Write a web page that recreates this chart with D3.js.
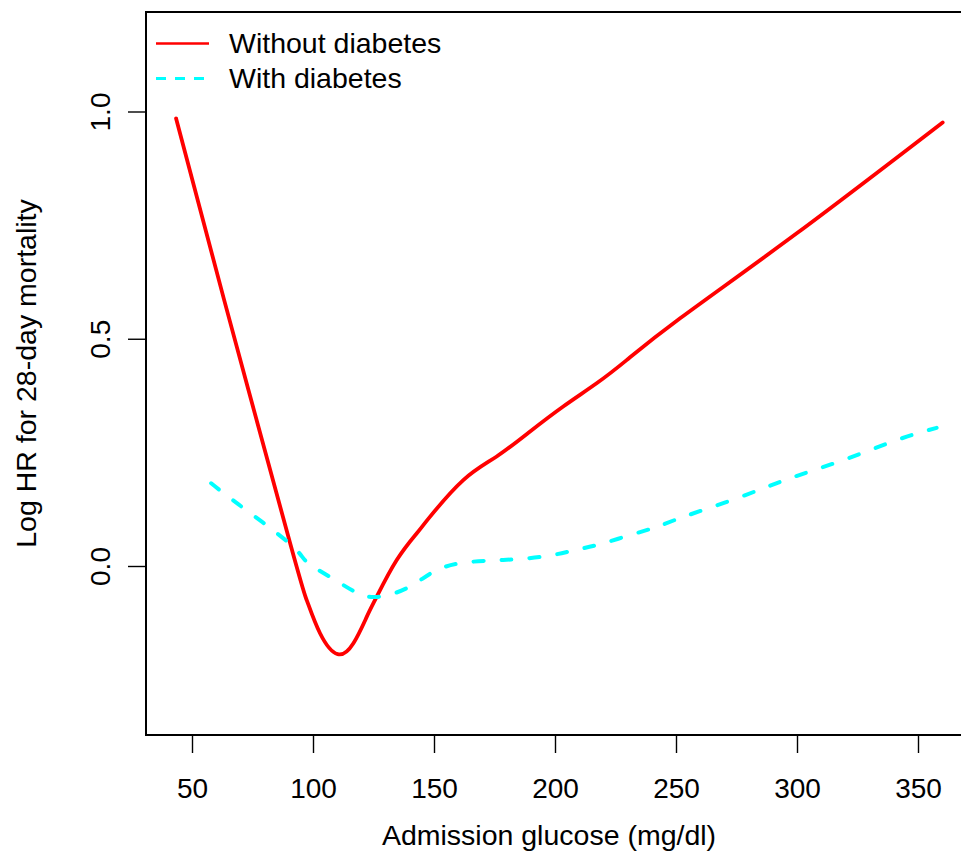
<!DOCTYPE html>
<html>
<head>
<meta charset="utf-8">
<script src="https://cdn.jsdelivr.net/npm/d3@7"></script>
<style>
  body { margin: 0; background: #fff; overflow: hidden; }
  svg { display: block; font-family: "Liberation Sans", Arial, sans-serif; }
  .axis text { font-size: 28px; fill: #000; }
  .axis line { stroke: #000; stroke-width: 1.4; }
</style>
</head>
<body>
<div id="chart"></div>
<script>
// glucose (mg/dl) and log HR
var withoutX = [43.4, 63.3, 90.5, 97.4, 102.9, 110.2, 116.7, 122.2, 126.3, 134.6, 142.9, 148.3, 162.1, 175.9, 189.7, 203.4, 217.2, 229.6, 251.7, 299.9, 360.2];
var withoutY = [0.985, 0.585, 0.051, -0.075, -0.148, -0.194, -0.170, -0.112, -0.068, 0.013, 0.072, 0.108, 0.189, 0.241, 0.296, 0.351, 0.402, 0.453, 0.545, 0.732, 0.976];

var withX = [57.9, 69.1, 90.2, 97.4, 107.0, 117.4, 126.3, 138.7, 149.7, 160.7, 173.1, 184.2, 196.6, 207.6, 218.6, 231.0, 242.0, 253.0, 275.1, 297.1, 319.1, 341.2, 357.7];
var withY = [0.182, 0.136, 0.050, 0.009, -0.024, -0.057, -0.068, -0.049, -0.013, 0.006, 0.012, 0.015, 0.022, 0.034, 0.048, 0.068, 0.086, 0.108, 0.149, 0.193, 0.233, 0.277, 0.304];

var xTicks = [50, 100, 150, 200, 250, 300, 350];
var yTicks = [0, 0.5, 1.0];
var seriesNames = ['Without diabetes', 'With diabetes'];

var W = 961, H = 852;
// the frame runs off the right side of the picture
var box = { left: 146, top: 12, right: 1000, bottom: 735 };

var svg = d3.select('#chart').append('svg')
  .attr('width', W)
  .attr('height', H);

var x = d3.scaleLinear().domain([50, 350]).range([192, 918]);
var y = d3.scaleLinear().domain([0, 1]).range([566, 111.5]);

// x axis
var xAxis = d3.axisBottom(x).tickValues(xTicks).tickSize(18).tickSizeOuter(0)
  .tickFormat(d3.format('d'));
svg.append('g')
  .attr('class', 'axis')
  .attr('transform', 'translate(0,' + box.bottom + ')')
  .call(xAxis)
  .call(function(g) {
    g.select('.domain').remove();
    g.selectAll('.tick text').attr('dy', null).attr('y', 63);
  });

// y axis, labels turned like R does
var yAxis = d3.axisLeft(y).tickValues(yTicks).tickSize(18).tickSizeOuter(0)
  .tickFormat(d3.format('.1f'));
svg.append('g')
  .attr('class', 'axis')
  .attr('transform', 'translate(' + box.left + ',0)')
  .call(yAxis)
  .call(function(g) {
    g.select('.domain').remove();
    g.selectAll('.tick text')
      .attr('x', null).attr('dy', null)
      .attr('text-anchor', 'middle')
      .attr('transform', 'translate(-36,0) rotate(-90)');
  });

// axis titles
svg.append('text')
  .attr('x', 549)
  .attr('y', 845)
  .attr('text-anchor', 'middle')
  .style('font-size', '28.5px')
  .text('Admission glucose (mg/dl)');

svg.append('text')
  .attr('transform', 'translate(36,' + ((box.top + box.bottom) / 2) + ') rotate(-90)')
  .attr('text-anchor', 'middle')
  .style('font-size', '28.5px')
  .text('Log HR for 28-day mortality');

// lines
var line = d3.line()
  .x(function(d) { return x(d[0]); })
  .y(function(d) { return y(d[1]); })
  .curve(d3.curveNatural);

svg.append('path')
  .datum(d3.zip(withoutX, withoutY))
  .attr('d', line)
  .attr('fill', 'none')
  .attr('stroke', '#ff0000')
  .attr('stroke-width', 3.8)
  .attr('stroke-linecap', 'round');

svg.append('path')
  .datum(d3.zip(withX, withY))
  .attr('d', line)
  .attr('fill', 'none')
  .attr('stroke', '#00ffff')
  .attr('stroke-width', 4)
  .attr('stroke-dasharray', '10,18')
  .attr('stroke-linecap', 'round');

// frame
svg.append('rect')
  .attr('x', box.left)
  .attr('y', box.top)
  .attr('width', box.right - box.left)
  .attr('height', box.bottom - box.top)
  .attr('fill', 'none')
  .attr('stroke', '#000')
  .attr('stroke-width', 2);

// legend
var legend = svg.append('g').attr('class', 'legend');
var legendRows = legend.selectAll('g').data(seriesNames).enter().append('g')
  .attr('transform', function(d, i) { return 'translate(0,' + (43.5 + i * 35) + ')'; });
legendRows.append('line')
  .attr('x1', 156).attr('x2', 209)
  .attr('y1', 0).attr('y2', 0)
  .attr('stroke', function(d, i) { return i == 0 ? '#ff0000' : '#00ffff'; })
  .attr('stroke-width', function(d, i) { return i == 0 ? 2.6 : 3; })
  .attr('stroke-dasharray', function(d, i) { return i == 0 ? null : '10,9'; });
legendRows.append('text')
  .attr('x', 229)
  .attr('y', 9.5)
  .style('font-size', '28.5px')
  .text(function(d) { return d; });
</script>
</body>
</html>
